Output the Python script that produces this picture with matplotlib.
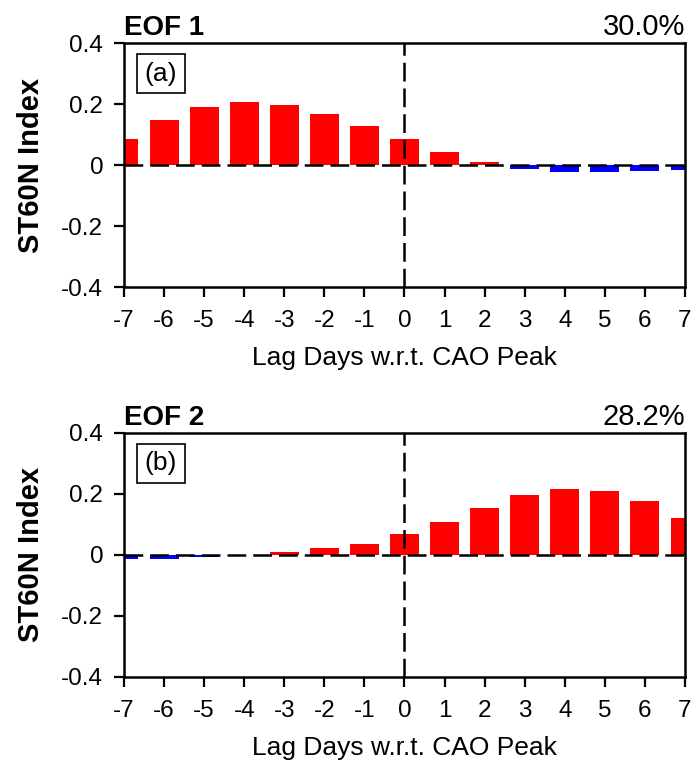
import matplotlib
matplotlib.use("Agg")
import matplotlib.pyplot as plt
import numpy as np

plt.rcParams["font.family"] = ["Liberation Sans", "DejaVu Sans"]

lags = np.arange(-7, 8)
eof1 = [0.084, 0.146, 0.189, 0.206, 0.196, 0.166, 0.127, 0.084,
        0.044, 0.011, -0.013, -0.023, -0.023, -0.020, -0.015]
eof2 = [-0.015, -0.015, -0.007, -0.002, 0.010, 0.021, 0.037, 0.067,
        0.109, 0.155, 0.195, 0.217, 0.211, 0.176, 0.122]
titles = ["EOF 1", "EOF 2"]
variance = ["30.0%", "28.2%"]
panel_labels = ["(a)", "(b)"]
yticks = [-0.4, -0.2, 0, 0.2, 0.4]
ytick_labels = ["-0.4", "-0.2", "0", "0.2", "0.4"]

DASH = (0, (7.5, 2.8))


def draw_panel(ax, vals, title, var, label):
    vals = np.array(vals)
    colors = ["red" if v >= 0 else "blue" for v in vals]
    ax.bar(lags, vals, width=0.72, color=colors, zorder=2)
    ax.axhline(0, color="black", linestyle=DASH, linewidth=1.8, zorder=3)
    ax.axvline(0, color="black", linestyle=DASH, linewidth=1.8, zorder=3)
    ax.set_xlim(-7, 7)
    ax.set_ylim(-0.4, 0.4)
    ax.set_xticks(lags)
    ax.set_xticklabels([str(l) for l in lags])
    ax.set_yticks(yticks)
    ax.set_yticklabels(ytick_labels)
    ax.tick_params(direction="out", length=7, width=1.6, labelsize=17.5,
                   top=False, right=False)
    ax.tick_params(axis="y", pad=8)
    ax.tick_params(axis="x", pad=9.5)
    for s in ax.spines.values():
        s.set_linewidth(1.8)
    ax.set_xlabel("Lag Days w.r.t. CAO Peak", fontsize=19, labelpad=10)
    ax.set_ylabel("ST60N Index", fontsize=21, fontweight="bold", labelpad=12)
    ax.set_title(title, loc="left", fontsize=20, fontweight="bold", pad=6)
    ax.set_title(var, loc="right", fontsize=21, pad=6)
    ax.text(0.037, 0.924, label, transform=ax.transAxes, fontsize=19,
            va="top", ha="left",
            bbox=dict(boxstyle="square,pad=0.3", facecolor="white",
                      edgecolor="black", linewidth=1.2))


fig = plt.figure(figsize=(6.94, 7.67), dpi=100)
ax1 = fig.add_axes([0.1787, 0.6258, 0.8083, 0.3181])
ax2 = fig.add_axes([0.1787, 0.1177, 0.8083, 0.3178])

draw_panel(ax1, eof1, titles[0], variance[0], panel_labels[0])
draw_panel(ax2, eof2, titles[1], variance[1], panel_labels[1])

fig.savefig("out.png", dpi=100)
